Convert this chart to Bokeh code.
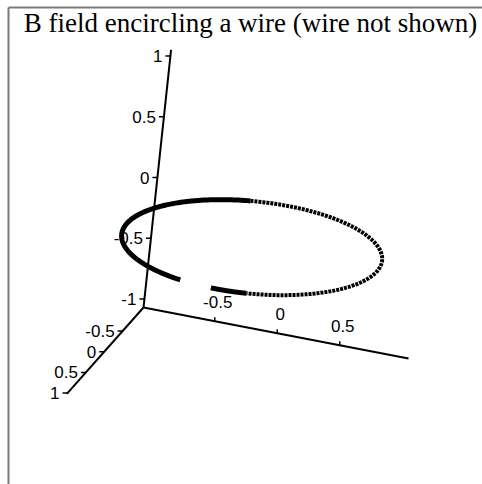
import numpy as np
from bokeh.plotting import figure
from bokeh.models import Range1d
from bokeh.core.properties import value
from bokeh.embed import file_html
from bokeh.resources import INLINE

# ---- chart content -------------------------------------------------------
title_text = "B field encircling a wire (wire not shown)"

x_tick_values = [-0.5, 0.0, 0.5]
x_tick_labels = ["-0.5", "0", "0.5"]
y_tick_values = [-0.5, 0.0, 0.5, 1.0]
y_tick_labels = ["-0.5", "0", "0.5", "1"]
z_tick_values = [-1.0, -0.5, 0.0, 0.5, 1.0]
z_tick_labels = ["-1", "-0.5", "0", "0.5", "1"]

# field line: a circle of radius 1 around the z axis, in the plane z = 0
ring_radius = 1.0
ring_height = 0.0
# angular spans (degrees) of the drawn field line
solid_spans = [(107.0, 253.0), (76.0, 92.0)]
textured_spans = [(253.0, 436.0)]

# axis box limits
box_lo = -1.07
box_hi = {"x": 1.05, "y": 1.02, "z": 1.05}

# ---- view (oblique projection to page units) ----------------------------
origin = np.array([251.4, 246.9])
ex = np.array([125.0, 24.0])
ey = np.array([-36.7, 41.3])
ez = np.array([13.0, -121.5])


def project(x, y, z):
    x = np.asarray(x, dtype=float)
    y = np.asarray(y, dtype=float)
    z = np.asarray(z, dtype=float)
    sx = origin[0] + x * ex[0] + y * ey[0] + z * ez[0]
    sy = origin[1] + x * ex[1] + y * ey[1] + z * ez[1]
    return sx, sy


W, H = 482, 484
p = figure(width=W, height=H, output_backend="svg", toolbar_location=None,
           x_range=Range1d(0, W), y_range=Range1d(H, 0),
           min_border=0, x_axis_type=None, y_axis_type=None)
p.grid.visible = False
p.outline_line_color = None
p.background_fill_color = "white"
p.border_fill_color = "white"

# frame around the plot region
p.segment(x0=[8, 8], y0=[7, 7], x1=[8, W], y1=[H, 7],
          line_color="#7a7a7a", line_width=2)

# title
p.text(x=[250], y=[22], text=[title_text], text_font=value("Liberation Serif"),
       text_font_size="27px", text_align="center", text_baseline="middle",
       text_color="black")

# ---- axes ----------------------------------------------------------------
lo = box_lo
ax0x, ax0y = project([lo, lo, lo], [lo, lo, lo], [lo, lo, lo])
ax1x, ax1y = project([box_hi["x"], lo, lo], [lo, box_hi["y"], lo], [lo, lo, box_hi["z"]])
p.segment(x0=ax0x, y0=ax0y, x1=ax1x, y1=ax1y, line_color="black", line_width=2)

tick_font = value("Liberation Sans")
tick_size = "17px"

# z axis: ticks to the left, labels right-aligned
zx, zy = project([lo] * len(z_tick_values), [lo] * len(z_tick_values), z_tick_values)
p.segment(x0=zx, y0=zy, x1=zx - 5, y1=zy, line_color="black", line_width=1.5)
p.text(x=zx - 8, y=zy, text=z_tick_labels, text_font=tick_font,
       text_font_size=tick_size, text_align="right", text_baseline="middle")

# y axis: ticks to the left, labels right-aligned
yx, yy = project([lo] * len(y_tick_values), y_tick_values, [lo] * len(y_tick_values))
p.segment(x0=yx, y0=yy, x1=yx - 5, y1=yy, line_color="black", line_width=1.5)
p.text(x=yx - 8, y=yy, text=y_tick_labels, text_font=tick_font,
       text_font_size=tick_size, text_align="right", text_baseline="middle")

# x axis: short ticks upward, labels above
xx, xy = project(x_tick_values, [lo] * len(x_tick_values), [lo] * len(x_tick_values))
p.segment(x0=xx, y0=xy, x1=xx, y1=xy - 4, line_color="black", line_width=1.5)
p.text(x=xx + 3, y=xy - 19, text=x_tick_labels, text_font=tick_font,
       text_font_size=tick_size, text_align="center", text_baseline="middle")

# ---- field line ------------------------------------------------------------
def ring_xy(a0, a1):
    t = np.radians(np.linspace(a0, a1, 200))
    return project(ring_radius * np.cos(t), ring_radius * np.sin(t),
                   np.full_like(t, ring_height))


for a0, a1 in textured_spans:
    sx, sy = ring_xy(a0, a1)
    p.line(sx, sy, line_color="black", line_width=4, line_dash="3 1")

for a0, a1 in solid_spans:
    sx, sy = ring_xy(a0, a1)
    p.line(sx, sy, line_color="black", line_width=5)

open("out.html", "w").write(file_html(p, INLINE))
